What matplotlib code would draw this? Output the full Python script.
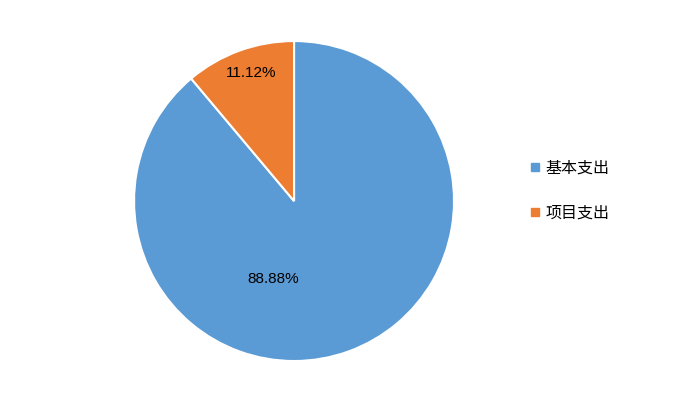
import matplotlib.pyplot as plt
from matplotlib.lines import Line2D

plt.rcParams['font.family'] = ['Liberation Sans', 'Noto Sans CJK SC', 'DejaVu Sans']

categories = ['基本支出', '项目支出']
values = [88.88, 11.12]
colors = ['#5B9BD5', '#ED7D31']

fig = plt.figure(figsize=(6.93, 4.04), dpi=100)
ax = fig.add_axes([0.1934, 0.1064, 0.4618, 0.792])

wedges, texts, autotexts = ax.pie(values, colors=colors, startangle=90, counterclock=False,
                                  autopct='%.2f%%', pctdistance=0.6,
                                  wedgeprops=dict(edgecolor='white', linewidth=1.5),
                                  textprops=dict(fontsize=11, color='black'))
# label positions similar to the reference
autotexts[0].set_position((-0.13, -0.49))
autotexts[1].set_position((-0.27, 0.8))
ax.set_xlim(-1, 1)
ax.set_ylim(-1, 1)
ax.set_aspect('equal')

handles = [Line2D([], [], marker='s', linestyle='', markersize=5.5, color=c) for c in colors]
fig.legend(handles, categories, loc='upper left', bbox_to_anchor=(0.74, 0.64),
           frameon=False, labelspacing=1.75, handletextpad=0.15,
           handlelength=1.0, prop={'family': ['Noto Sans CJK SC', 'DejaVu Sans'], 'size': 11.5})

fig.savefig('out.png', dpi=100)
